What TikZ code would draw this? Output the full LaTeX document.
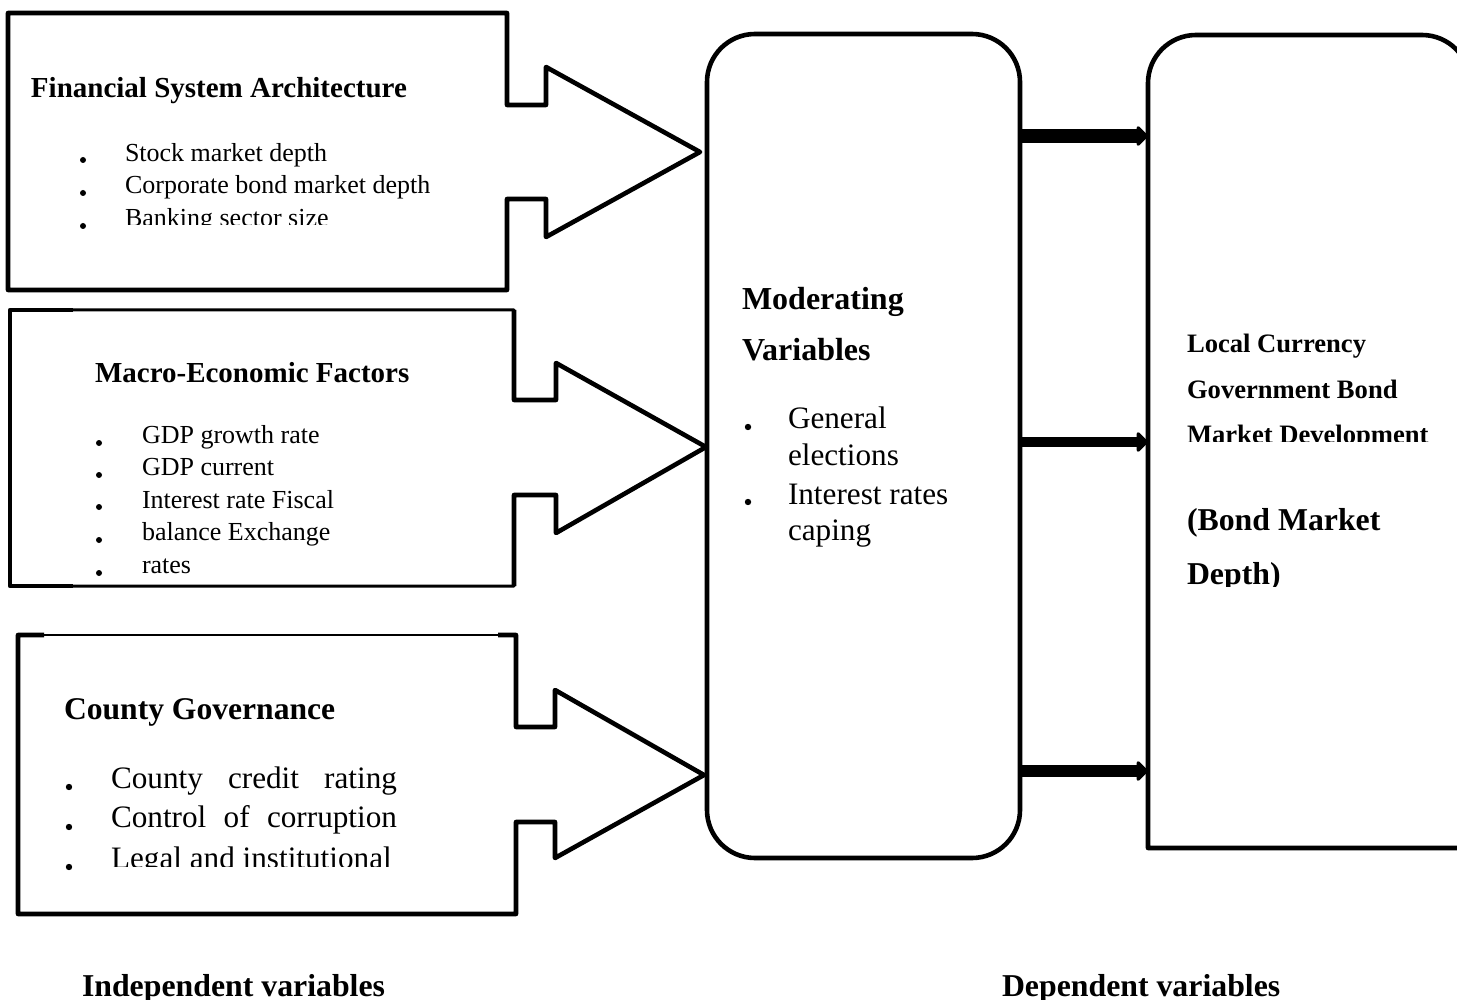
\documentclass[tikz,border=0pt]{standalone}
\usepackage{fontspec}
\setmainfont{Liberation Serif}
\usetikzlibrary{arrows.meta}
\tikzset{
  outline/.style={line width=2.3pt, line join=round},
  thinline/.style={line width=1.5pt},
  txt/.style={anchor=base west, inner sep=0pt, outer sep=0pt},
  bul/.style={fill=black, draw=none},
  fatarrow/.style={-{Triangle[length=6pt,width=11.5pt,round]}},
  headA/.style={font=\fontsize{14.5}{17}\bfseries\selectfont},
  itemA/.style={font=\fontsize{13}{15}\selectfont},
  headB/.style={font=\fontsize{15.8}{18}\bfseries\selectfont},
  itemB/.style={font=\fontsize{15.6}{18}\selectfont},
  smallbold/.style={font=\fontsize{13.3}{16}\bfseries\selectfont},
}
\begin{document}
\begin{tikzpicture}[x=0.5pt,y=-0.5pt]
\useasboundingbox (0,0) rectangle (1457,1000);

% ---------- Box 1: Financial System Architecture ----------
\draw[outline] (507,13) -- (8,13) -- (8,290) -- (507,290) -- (507,199) -- (546,199)
  -- (546,237) -- (700,152) -- (546,67) -- (546,105) -- (507,105) -- cycle;
\node[txt, headA] (h1) at (31,98) {Financial System Architecture};
\node[txt, itemA] (i11) at (125,162) {Stock market depth};
\node[txt, itemA] (i12) at (125,194) {Corporate bond market depth};
\begin{scope}
  \clip (100,197) rectangle (480,225);
  \node[txt, itemA] (i13) at (125,227) {Banking sector size};
\end{scope}
\foreach \y in {160,193,226} \fill[bul] (83,\y) circle (3);

% ---------- Box 2: Macro-Economic Factors ----------
\draw[outline] (73,310) -- (10,310) -- (10,586) -- (73,586);
\draw[thinline, line join=round] (73,586) -- (514,586) -- (514,495) -- (556,495)
  -- (556,533) -- (706,447) -- (556,363) -- (556,400) -- (514,400) -- (514,310) -- (73,310);
\draw[outline] (514,586) -- (514,495) -- (556,495) -- (556,533) -- (706,447)
  -- (556,363) -- (556,400) -- (514,400) -- (514,310);
\node[txt, headA] (h2) at (95,382) {Macro-Economic Factors};
\node[txt, itemA] (i21) at (142,443) {GDP growth rate};
\node[txt, itemA] (i22) at (142,475.5) {GDP current};
\node[txt, itemA] (i23) at (142,508) {Interest rate Fiscal};
\node[txt, itemA] (i24) at (142,540.5) {balance Exchange};
\node[txt, itemA] (i25) at (142,573) {rates};
\foreach \y in {443,475,507,540,573} \fill[bul] (99,\y) circle (3);

% ---------- Box 3: County Governance ----------
\draw[outline] (44,635) -- (18,635) -- (18,914) -- (516,914) -- (516,822) -- (555,822)
  -- (555,858) -- (704,775) -- (555,690) -- (555,727) -- (516,727) -- (516,635) -- (498,635);
\draw[line width=0.8pt] (44,635) -- (498,635);
\node[txt, headB] (h3) at (64,719) {County Governance};
\node[txt, itemB] (i31) at (111,788) {\makebox[143pt][s]{County credit rating}};
\node[txt, itemB] (i32) at (111,827) {\makebox[143pt][s]{Control of corruption}};
\begin{scope}
  \clip (90,832) rectangle (480,866);
  \node[txt, itemB] (i33) at (111,868) {Legal and institutional};
\end{scope}
\foreach \y in {787,827,867} \fill[bul] (69,\y) circle (3.2);

% ---------- Moderating variables ----------
\node[draw, outline, rounded corners=24pt, inner sep=0pt, outer sep=0pt,
      minimum width=156.5pt, minimum height=412pt] (mod) at (863.5,446) {};
\node[txt, font=\fontsize{16}{19}\bfseries\selectfont] (m1) at (742,310) {Moderating};
\node[txt, font=\fontsize{16}{19}\bfseries\selectfont] (m2) at (742,360) {Variables};
\node[txt, itemB] (m3) at (788,429) {General};
\node[txt, itemB] (m4) at (788,465) {elections};
\node[txt, itemB] (m5) at (788,504) {Interest rates};
\node[txt, itemB] (m6) at (788,540) {caping};
\foreach \y in {427,502} \fill[bul] (748,\y) circle (3.2);

% ---------- Dependent variable box ----------
\draw[outline] (1148,848) [rounded corners=24pt] -- (1148,35) -- (1470,35) [sharp corners] -- (1470,848) -- cycle;
\coordinate (dep1) at (1148,136);
\coordinate (dep2) at (1148,442);
\coordinate (dep3) at (1148,771);
\node[txt, smallbold] (d1) at (1187,352) {Local Currency};
\node[txt, smallbold] (d2) at (1187,398) {Government Bond};
\begin{scope}
  \clip (1160,405) rectangle (1450,441);
  \node[txt, smallbold] (d3) at (1187,444) {Market Development};
\end{scope}
\node[txt, font=\fontsize{15.9}{19}\bfseries\selectfont] (d4) at (1187,530) {(Bond Market};
\begin{scope}
  \clip (1160,540) rectangle (1450,586);
  \node[txt, font=\fontsize{15.9}{19}\bfseries\selectfont] (d5) at (1187,584) {Depth)};
\end{scope}

% ---------- Thick connectors ----------
\draw[fatarrow, line width=7pt] (mod.east |- dep1) -- (dep1);
\draw[fatarrow, line width=4.6pt] (mod.east |- dep2) -- (dep2);
\draw[fatarrow, line width=6pt] (mod.east |- dep3) -- (dep3);

% ---------- Bottom labels ----------
\node[txt, font=\fontsize{15.9}{19}\bfseries\selectfont] (l1) at (82,996) {Independent variables};
\node[txt, font=\fontsize{15.9}{19}\bfseries\selectfont] (l2) at (1002,996) {Dependent variables};
\end{tikzpicture}
\end{document}
